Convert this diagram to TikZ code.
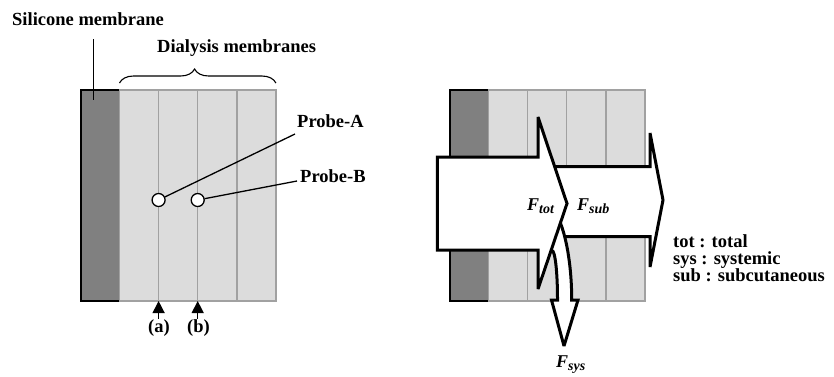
\documentclass[tikz,border=0pt]{standalone}
\usepackage{fontspec}
\setmainfont{Liberation Serif}
\usetikzlibrary{arrows.meta,decorations.pathreplacing}
\definecolor{silgray}{gray}{0.5}
\definecolor{dialgray}{gray}{0.863}
\definecolor{stripline}{gray}{0.63}
\tikzset{
  lbl/.style={font=\fontsize{18.5}{18.5}\selectfont\bfseries, inner sep=0pt},
  leglbl/.style={font=\fontsize{18.5}{15.5}\selectfont\bfseries, inner sep=0pt},
  flbl/.style={font=\fontsize{18}{18}\selectfont\bfseries\itshape, inner sep=0pt},
  silbox/.style={fill=silgray, draw=black, line width=1.3pt},
  stripbox/.style={fill=dialgray, draw=stripline, line width=1.5pt},
  probe/.style={circle, draw=black, fill=white, minimum size=13pt, inner sep=0pt, line width=1.3pt},
  thinline/.style={line width=1.3pt, draw=black},
  smallarrow/.style={-{Triangle[length=12pt,width=12pt]}, line width=1.3pt},
  arrowline/.style={line width=3pt, draw=black, line join=miter, miter limit=3},
}
\newcommand{\Fsub}[1]{F\raisebox{-3pt}{\fontsize{14}{14}\selectfont #1}}
\begin{document}
\begin{tikzpicture}[x=1pt, y=-1pt]
\useasboundingbox (0,0) rectangle (834,376);

% ---------- left diagram ----------
\draw[silbox] (81,90) rectangle (119.5,301);
\foreach \i in {0,1,2,3} {
  \draw[stripbox] ({119.5+39.1*\i},90) rectangle ({119.5+39.1*(\i+1)},301);
}

\node[lbl, anchor=base west] (silLbl) at (12,25) {Silicone membrane};
\coordinate (silTop) at (93.5,39);
\coordinate (silIn) at (93.5,100);
\draw[thinline] (silTop) -- (silIn);

\node[lbl, anchor=base west] (dialLbl) at (157,52) {Dialysis membranes};
\coordinate (braceL) at (119.5,83);
\coordinate (braceR) at (275.9,83);
\draw[decorate, decoration={brace, amplitude=14pt, aspect=0.48}, line width=1.1pt] (braceL) -- (braceR);

\node[probe] (probeA) at (158.6,200) {};
\node[probe] (probeB) at (197.7,200) {};
\node[lbl, anchor=base west] (pA) at (297,127) {Probe-A};
\node[lbl, anchor=base west] (pB) at (300,182) {Probe-B};
\coordinate (pAend) at (295,134);
\coordinate (pBend) at (297,181);
\draw[thinline] (probeA) -- (pAend);
\draw[thinline] (probeB) -- (pBend);

\coordinate (aTop) at (158.6,301);
\coordinate (aBot) at (158.6,319);
\coordinate (bTop) at (197.7,301);
\coordinate (bBot) at (197.7,319);
\draw[smallarrow] (aBot) -- (aTop);
\draw[smallarrow] (bBot) -- (bTop);
\node[lbl] (la) at (159,328) {(a)};
\node[lbl] (lb) at (198.5,328) {(b)};

% ---------- right diagram ----------
\draw[silbox] (450,90) rectangle (488.5,301);
\foreach \i in {0,1,2,3} {
  \draw[stripbox] ({488.5+39.1*\i},90) rectangle ({488.5+39.1*(\i+1)},301);
}

% F_sub arrow
\fill[white] (554.7,166.7) -- (650,166.7) -- (650,133) -- (663,200) -- (650,267) -- (650,236.7) -- (565,236.7) -- (560.4,223) -- (567,203.5) -- cycle;
\draw[arrowline] (554.7,166.7) -- (650,166.7) -- (650,133) -- (663,200) -- (650,267) -- (650,236.7) -- (566,236.7);

% F_sys arrow
\fill[white] (550.65,251.7) .. controls (554,245) and (557.5,265) .. (557.5,300) -- (551.5,300) -- (564,346) -- (578,300) -- (571.7,300) .. controls (571.7,268) and (567,240) .. (560.4,223) -- cycle;
\draw[arrowline] (550.65,251.7) .. controls (554,245) and (557.5,265) .. (557.5,300) -- (551.5,300) -- (564,346) -- (578,300) -- (571.7,300) .. controls (571.7,268) and (567,240) .. (560.4,223);

% F_tot arrow
\filldraw[arrowline, fill=white] (437.3,157) -- (538,157) -- (538,117) -- (567,203.5) -- (538,289) -- (538,250) -- (437.3,250) -- cycle;

\node[flbl, anchor=base west] (ftot) at (527,210) {\Fsub{tot}};
\node[flbl, anchor=base west] (fsub) at (577,210) {\Fsub{sub}};
\node[flbl, anchor=base west] (fsys) at (556,367) {\Fsub{sys}};

\node[leglbl, anchor=base west] (legend) at (673,247)
  {\begin{tabular}[t]{@{}l@{}}tot : total\\sys : systemic\\sub : subcutaneous\end{tabular}};
\end{tikzpicture}
\end{document}
